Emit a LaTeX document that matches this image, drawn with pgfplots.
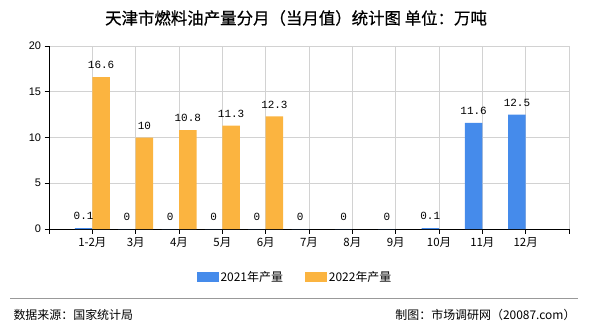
\documentclass[border=0pt]{standalone}
\usepackage{pgfplots}
\pgfplotsset{compat=1.18}
\usepackage{fontspec}
\setmainfont{Noto Sans CJK SC}
\newfontfamily\titlef{Noto Sans CJK SC}[FakeBold=0.6]
\newfontfamily\monof{Liberation Mono}
\newfontfamily\numf{Liberation Sans}
\definecolor{b21}{RGB}{69,139,235}
\definecolor{o22}{RGB}{251,180,64}
\definecolor{gridc}{RGB}{210,210,210}
\begin{document}
\begin{tikzpicture}[x=1bp,y=1bp]
\useasboundingbox (0,0) rectangle (590,330);
\node[font=\titlef\fontsize{16.5}{18}\selectfont] at (296,312) {天津市燃料油产量分月（当月值）统计图 单位：万吨};
\begin{axis}[
  at={(49bp,101bp)}, anchor=south west,
  scale only axis, width=520bp, height=183bp,
  xmin=-1, xmax=11, ymin=0, ymax=20,
  xtick={-1,0,1,2,3,4,5,6,7,8,9,10,11},
  xticklabels={,1-2月,3月,4月,5月,6月,7月,8月,9月,10月,11月,12月,},
  ytick={0,5,10,15,20},
  axis x line*=bottom, axis y line*=left,
  axis line style={black, line width=0.8bp},
  grid=major, grid style={color=gridc, line width=0.8bp},
  tick align=outside,
  major tick length=4.5bp,
  major tick style={black, line width=0.8bp},
  /pgf/number format/assume math mode=true,
  xticklabel style={font=\fontsize{11.5}{12}\selectfont},
  yticklabel style={font=\numf\fontsize{11}{12}\selectfont},
  ybar, bar width=17.5bp,
  nodes near coords,
  nodes near coords style={font=\monof\fontsize{11}{12}\selectfont, anchor=center, yshift=12bp, black},
  legend columns=2,
  legend style={at={(0.473,-0.262)}, anchor=center, draw=none, fill=none,
     font=\fontsize{12}{13}\selectfont, /tikz/every even column/.append style={column sep=20bp}},
]
\addplot[fill=b21, draw=none, bar shift=-8.75bp,
  legend image code/.code={\fill[b21] (0bp,-5bp) rectangle (22bp,5bp);}]
  coordinates {(0,0.1) (1,0) (2,0) (3,0) (4,0) (5,0) (6,0) (7,0) (8,0.1) (9,11.6) (10,12.5)};
\addlegendentry{2021年产量}
\addplot[fill=o22, draw=none, bar shift=8.75bp,
  legend image code/.code={\fill[o22] (0bp,-5bp) rectangle (22bp,5bp);}]
  coordinates {(0,16.6) (1,10) (2,10.8) (3,11.3) (4,12.3)};
\addlegendentry{2022年产量}
\end{axis}
\draw[gray!80, line width=0.8bp] (10,32) -- (578,32);
\node[anchor=west, font=\fontsize{12}{13}\selectfont] at (10,15) {数据来源：国家统计局};
\node[anchor=east, font=\fontsize{12}{13}\selectfont] at (579,15) {制图：市场调研网（20087.com）};
\end{tikzpicture}
\end{document}
